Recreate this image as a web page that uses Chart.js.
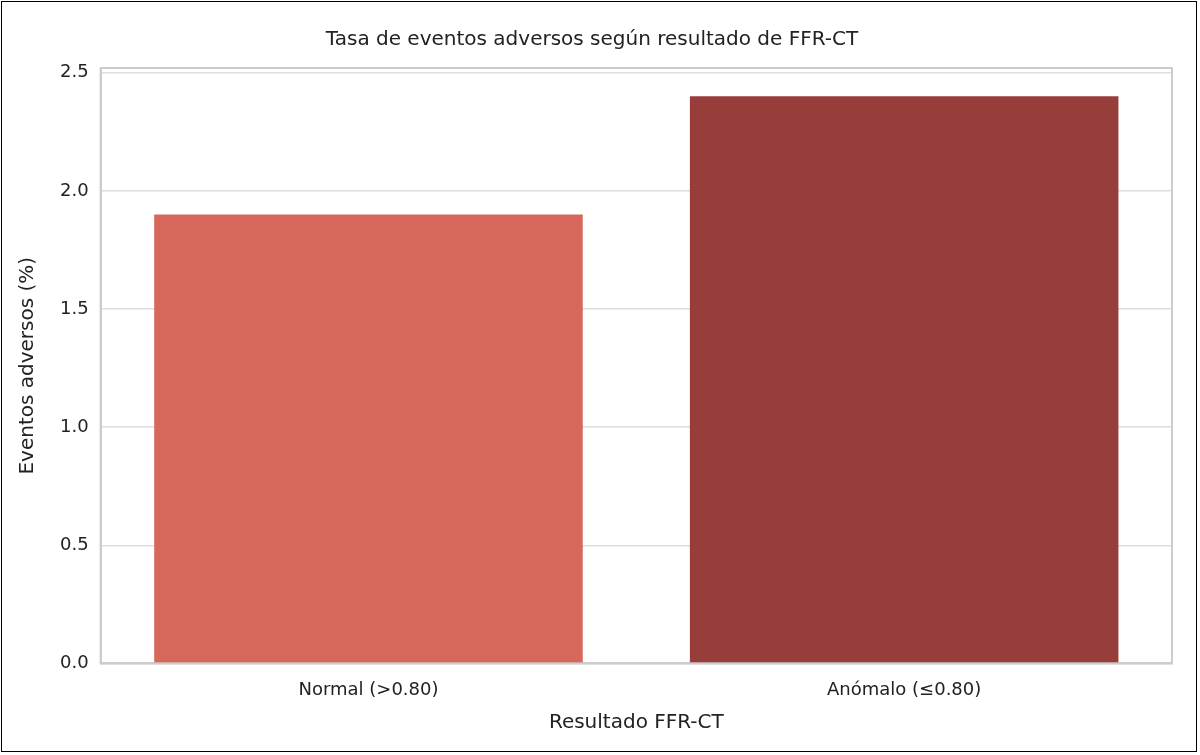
<!DOCTYPE html>
<html><head><meta charset="utf-8">
<script src="https://cdn.jsdelivr.net/npm/chart.js@4"></script>
<style>
html,body{margin:0;padding:0;background:#fff;}
#wrap{position:absolute;left:1px;top:1px;width:1196px;height:751px;border:1px solid #000;box-sizing:border-box;}
</style></head><body>
<div id="wrap"><canvas id="c" width="1196" height="751"></canvas></div>
<script>
const categories = ["Normal (>0.80)", "Anómalo (≤0.80)"];
const values = [1.9, 2.4];
const colors = ["#d6675a", "#973e3b"];
const yTicks = [0, 0.5, 1.0, 1.5, 2.0, 2.5];
const F = "'DejaVu Sans', sans-serif";
new Chart(document.getElementById('c'), {
  type: 'bar',
  data: { labels: categories, datasets: [{ data: values, backgroundColor: colors, categoryPercentage: 1, barPercentage: 0.8 }] },
  options: {
    responsive: false, animation: false,
    layout: { padding: { top: 10, right: 26, bottom: 14, left: 10 } },
    plugins: { legend: { display: false }, tooltip: { enabled: false },
      title: { display: true, text: 'Tasa de eventos adversos según resultado de FFR-CT', color: '#222', font: { family: F, size: 20, weight: 'normal' }, padding: { top: 16, bottom: 16 } } },
    scales: {
      x: { grid: { display: false }, border: { color: '#ccc', width: 2 },
        ticks: { color: '#222', font: { family: F, size: 18 }, padding: 8 },
        title: { display: true, text: 'Resultado FFR-CT', color: '#222', font: { family: F, size: 20 }, padding: { top: 2 } } },
      y: { min: 0, max: 2.52, border: { color: '#ccc', width: 2 },
        afterBuildTicks: ax => { ax.ticks = yTicks.map(v => ({ value: v })); },
        grid: { color: '#ddd', lineWidth: 1.5, drawTicks: false },
        ticks: { color: '#222', font: { family: F, size: 18 }, padding: 12, callback: v => Number(v).toFixed(1) },
        title: { display: true, text: 'Eventos adversos (%)', color: '#222', font: { family: F, size: 20 }, padding: { bottom: 8 } } }
    }
  },
  plugins: [{ id: 'frame', afterDraw(c) { const a = c.chartArea, x = c.ctx; x.save(); x.strokeStyle = '#ccc'; x.lineWidth = 2; x.strokeRect(a.left, a.top, a.right - a.left, a.bottom - a.top); x.restore(); } }]
});
</script></body></html>
